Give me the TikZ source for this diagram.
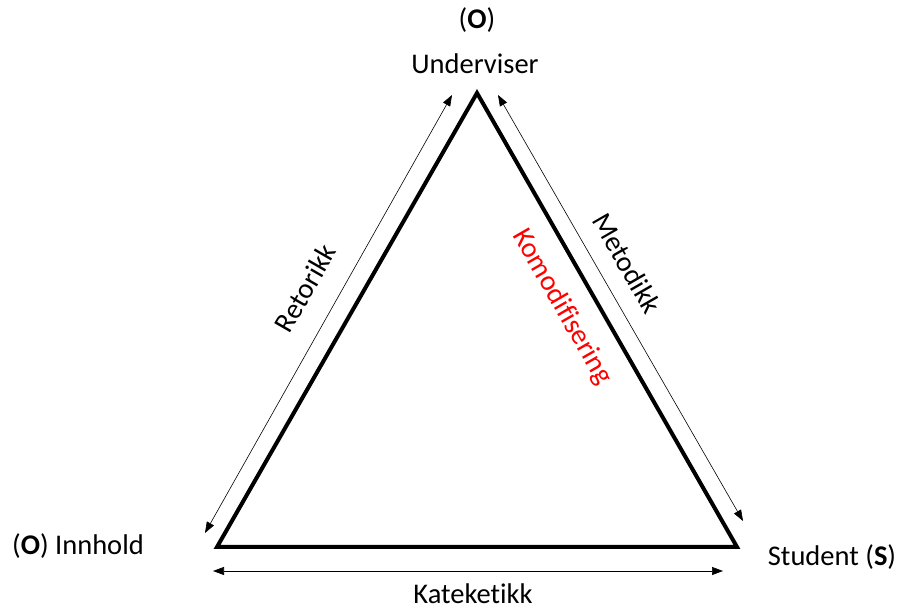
\documentclass[tikz,border=0pt]{standalone}
\usepackage{fontspec}
\setmainfont{Carlito}[Ligatures=NoCommon]
\usepackage{xcolor}
\usetikzlibrary{arrows.meta, positioning}

\begin{document}
\begin{tikzpicture}[
    x=1pt, y=1pt,
    label/.style={inner sep=0pt, font=\fontsize{28.5}{30}\selectfont},
    side/.style={line width=4pt, line join=miter},
    dual/.style={{Triangle[length=11pt,width=8pt]}-{Triangle[length=11pt,width=8pt]}, line width=0.6pt},
]
\useasboundingbox (0,0) rectangle (899,610);

% hjoerner
\coordinate (top) at (477,517);
\coordinate (left) at (217,63);
\coordinate (right) at (737,63);

% tekst ved hjoernene
\node[label] (o) at (477,590) {(\textbf{O})};
\node[label] (underviser) at (475,546) {Underviser};
\node[label] (innhold) at (78,64) {(\textbf{O}) Innhold};
\node[label] (student) at (832,53) {Student (\textbf{S})};

% trekanten
\draw[side] (top) -- (left) -- (right) -- cycle;

% piler langs sidene
\coordinate (l1) at (452,515);
\coordinate (l2) at (205,77);
\coordinate (r1) at (498,515);
\coordinate (r2) at (743,89);
\coordinate (b1) at (213,39);
\coordinate (b2) at (723,39);
\draw[dual] (l1) -- (l2);
\draw[dual] (r1) -- (r2);
\draw[dual] (b1) -- (b2);

% navn paa relasjonene
\node[label, rotate=60] (retorikk) at (305,322) {Retorikk};
\node[label, rotate=-60] (metodikk) at (627,347) {Metodikk};
\node[label, rotate=-60, text=red] (komodifisering) at (562,303) {Komodifisering};
\node[label] (kateketikk) at (473,16) {Kateketikk};

\end{tikzpicture}
\end{document}
